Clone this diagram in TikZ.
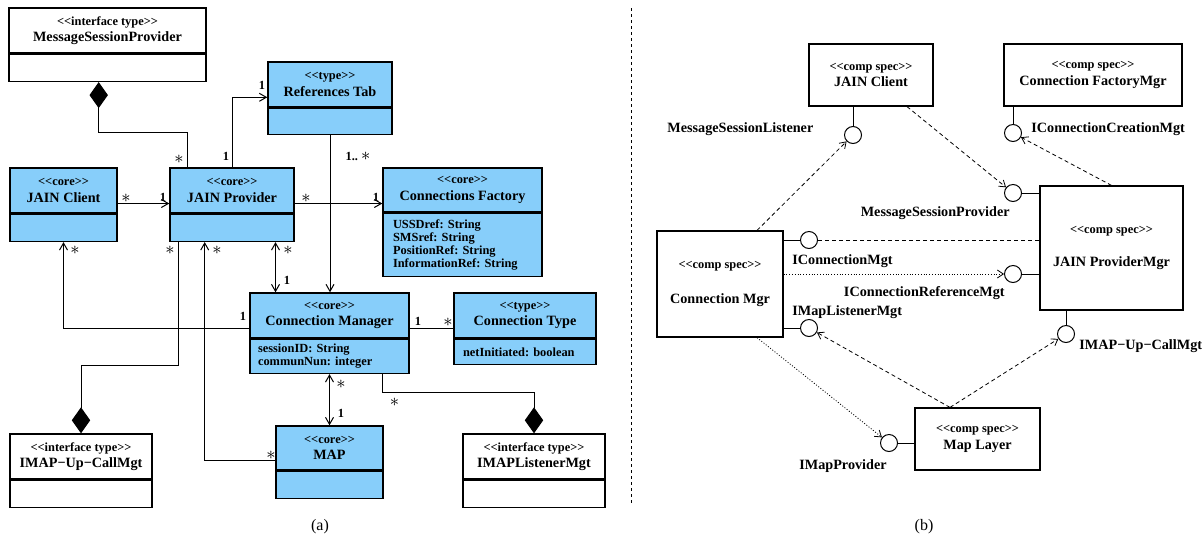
\documentclass[tikz,border=0pt]{standalone}
\usepackage{fontspec}
\setmainfont{Liberation Serif}
\usetikzlibrary{arrows.meta, positioning, calc}
\definecolor{coreblue}{RGB}{135,206,250}
\newcommand{\nmfont}{\bfseries\fontsize{7.1}{8.3}\selectfont}
\newcommand{\stfont}{\bfseries\fontsize{6.2}{8.3}\selectfont}
\newcommand{\atfont}{\bfseries\fontsize{6.2}{6.5}\selectfont}
\newcommand{\stereo}[1]{{\stfont<{}<#1>{}>}}
\newcommand{\mstar}{{\fontsize{9}{9}\selectfont$\ast$}}
\frenchspacing

\begin{document}
\begin{tikzpicture}[x=0.5pt, y=-0.5pt,
  hdr/.style={draw, line width=0.7pt, inner sep=0pt, align=center, font=\nmfont},
  core/.style={hdr, fill=coreblue},
  iface/.style={hdr, fill=white},
  body/.style={draw, line width=0.7pt, inner sep=0pt, align=left, font=\atfont},
  compbox/.style={hdr, line width=0.6pt, fill=white},
  port/.style={circle, draw, line width=0.5pt, fill=white, minimum size=8.5pt, inner sep=0pt},
  plabel/.style={font=\nmfont, inner sep=0pt},
  mult/.style={font=\stfont, inner sep=0pt},
  captxt/.style={font=\fontsize{8}{9}\selectfont, inner sep=0pt},
  assoc/.style={line width=0.5pt},
  nav/.style={assoc, -{Straight Barb[length=3.5pt,width=4pt]}},
  bothnav/.style={assoc, {Straight Barb[length=3.5pt,width=4pt]}-{Straight Barb[length=3.5pt,width=4pt]}},
  compo/.style={assoc, -{Diamond[length=13pt,width=9.2pt]}},
  dep/.style={line width=0.4pt, dash pattern=on 2pt off 1.5pt, -{Straight Barb[length=3pt,width=4pt]}},
  dotdep/.style={line width=0.4pt, dash pattern=on 0.5pt off 0.9pt, -{Straight Barb[length=3pt,width=4pt]}},
  sepline/.style={line width=0.45pt, dash pattern=on 1.5pt off 1.5pt}]
\useasboundingbox (0,0) rectangle (1203,541);

% (a) class diagram
\node[iface, minimum width=98.5pt, minimum height=22.5pt] (msp) at (107.5,30.5) {\stereo{interface type}\\MessageSessionProvider};
\node[body, fill=white, minimum width=98.5pt, minimum height=13.5pt, below=0pt of msp] (mspb) {};
\node[core, minimum width=62pt, minimum height=22.5pt] (rt) at (330,84.5) {\stereo{type}\\References Tab};
\node[body, fill=coreblue, minimum width=62pt, minimum height=13pt, below=0pt of rt] (rtb) {};
\node[core, minimum width=53.5pt, minimum height=22.5pt] (jc) at (63.5,190.5) {\stereo{core}\\JAIN Client};
\node[body, fill=coreblue, minimum width=53.5pt, minimum height=13.5pt, below=0pt of jc] (jcb) {};
\node[core, minimum width=62pt, minimum height=22.5pt] (jp) at (232,190.5) {\stereo{core}\\JAIN Provider};
\node[body, fill=coreblue, minimum width=62pt, minimum height=13.5pt, below=0pt of jp] (jpb) {};
\node[core, minimum width=79.5pt, minimum height=22pt] (cf) at (462.5,190) {\stereo{core}\\Connections Factory};
\node[body, fill=coreblue, text width=69.5pt, inner xsep=5pt, minimum height=31.5pt, below=0pt of cf] (cfb) {USSDref: String\\SMSref: String\\PositionRef: String\\InformationRef: String};
\node[core, minimum width=79.5pt, minimum height=22.5pt] (cm) at (329.5,315.5) {\stereo{core}\\Connection Manager};
\node[body, fill=coreblue, text width=71.5pt, inner xsep=4pt, minimum height=17pt, below=0pt of cm] (cmb) {sessionID: String\\communNun: integer};
\node[core, minimum width=71pt, minimum height=22.5pt] (ct) at (525,315.5) {\stereo{type}\\Connection Type};
\node[body, fill=coreblue, text width=62pt, inner xsep=4.5pt, minimum height=12.5pt, below=0pt of ct] (ctb) {netInitiated: boolean};
\node[iface, minimum width=71pt, minimum height=22.5pt] (iu) at (81,456.5) {\stereo{interface type}\\IMAP−Up−CallMgt};
\node[body, fill=white, minimum width=71pt, minimum height=13.5pt, below=0pt of iu] (iub) {};
\node[core, minimum width=53.5pt, minimum height=22pt] (map) at (329.5,448) {\stereo{core}\\MAP};
\node[body, fill=coreblue, minimum width=53.5pt, minimum height=13.5pt, below=0pt of map] (mapb) {};
\node[iface, minimum width=71pt, minimum height=22.5pt] (il) at (534,456.5) {\stereo{interface type}\\IMAPListenerMgt};
\node[body, fill=white, minimum width=71pt, minimum height=13.5pt, below=0pt of il] (ilb) {};

\draw[compo] ($(jp.north)+(-44.3,0)$) -- ++(0,-35.3) -| ($(mspb.south)+(-8.8,0)$);
\draw[nav] (jp.north) |- ($(rt.west)+(0,12.8)$);
\draw[nav] (rtb.south) -- (rtb.south |- cm.north);
\draw[nav] ($(jc.east)+(0,13)$) -- ($(jp.west)+(0,13)$);
\draw[nav] ($(jp.east)+(0,13)$) -- ($(cf.west)+(0,13.5)$);
\draw[bothnav] ($(jpb.south)+(43.5,0)$) -- ($(cm.north)+(-54,0)$);
\draw[nav] ($(cm.west)+(0,12.8)$) -| (jcb.south);
\draw[assoc] ($(cm.east)+(0,12.8)$) -- ($(ct.west)+(0,12.8)$);
\draw[compo] ($(jpb.south)+(-54,0)$) -- ++(0,123.3) -| (iu.north);
\draw[nav] ($(map.west)+(0,12.7)$) -| ($(jpb.south)+(-27.3,0)$);
\draw[bothnav] (cmb.south) -- (map.north);
\draw[compo] ($(cmb.south)+(53,0)$) -- ++(0,18.7) -| (il.north);

\node[mult] (m1) at (179,159) {\mstar};
\node[mult] (m2) at (226,156) {1};
\node[mult] (m3) at (262,85) {1};
\node[mult] (m4) at (358,156) {1.. \mstar};
\node[mult] (m5) at (126,198) {\mstar};
\node[mult] (m6) at (163,197) {1};
\node[mult] (m7) at (306,198) {\mstar};
\node[mult] (m8) at (376,197) {1};
\node[mult] (m9) at (170,250) {\mstar};
\node[mult] (m10) at (217,250) {\mstar};
\node[mult] (m11) at (288,250) {\mstar};
\node[mult] (m12) at (287,280) {1};
\node[mult] (m13) at (75,250) {\mstar};
\node[mult] (m14) at (243,316) {1};
\node[mult] (m15) at (418,321) {1};
\node[mult] (m16) at (448,322) {\mstar};
\node[mult] (m17) at (271,455) {\mstar};
\node[mult] (m18) at (341,384) {\mstar};
\node[mult] (m19) at (341,413) {1};
\node[mult] (m20) at (394.5,402) {\mstar};

% separator
\coordinate (septop) at (631,8);
\coordinate (sepbot) at (631,505);
\draw[sepline] (septop) -- (sepbot);

% (b) component diagram
\node[compbox, minimum width=62pt, minimum height=31pt] (cjc) at (871,75) {\stereo{comp spec}\\JAIN Client};
\node[compbox, minimum width=89pt, minimum height=31pt] (ccf) at (1093,75) {\stereo{comp spec}\\Connection FactoryMgr};
\node[compbox, minimum width=71.5pt, minimum height=62pt] (cjp) at (1111.5,248) {\stereo{comp spec}\\[8.2pt]JAIN ProviderMgr};
\node[compbox, minimum width=63pt, minimum height=53pt] (ccm) at (720,284) {\stereo{comp spec}\\[9.2pt]Connection Mgr};
\node[compbox, minimum width=62.5pt, minimum height=31pt] (cml) at (977.5,439) {\stereo{comp spec}\\Map Layer};

\node[port] (pmsl) at (853,135) {};
\node[port] (pccm) at (1013,133) {};
\node[port] (pmsp) at (1013,193) {};
\node[port] (pcm) at (809,240) {};
\node[port] (pcrm) at (1013,274) {};
\node[port] (piml) at (809,328) {};
\node[port] (pimu) at (1066,334) {};
\node[port] (pmp) at (889,443) {};

\draw[assoc] (cjc.south -| pmsl) -- (pmsl);
\draw[assoc] (ccf.south -| pccm) -- (pccm);
\draw[assoc] (pmsp) -- (pmsp -| cjp.west);
\draw[assoc] (pcm -| ccm.east) -- (pcm);
\draw[assoc] (pcrm) -- (pcrm -| cjp.west);
\draw[assoc] (piml -| ccm.east) -- (piml);
\draw[assoc] (pimu) -- (pimu |- cjp.south);
\draw[assoc] (pmp) -- (pmp -| cml.west);

\node[plabel, anchor=west] (lmsl) at (667,129) {MessageSessionListener};
\node[plabel, anchor=west] (lccm) at (1031,129) {IConnectionCreationMgt};
\node[plabel, anchor=east] (lmsp) at (1010,213) {MessageSessionProvider};
\node[plabel, anchor=west] (lcm) at (792,261) {IConnectionMgt};
\node[plabel, anchor=east] (lcrm) at (1005,293) {IConnectionReferenceMgt};
\node[plabel, anchor=west] (liml) at (792,312) {IMapListenerMgt};
\node[plabel, anchor=west] (limu) at (1079,346) {IMAP−Up−CallMgt};
\node[plabel] (lmp) at (843,466) {IMapProvider};

\draw[dep] ($(ccm.north)+(37,0)$) -- (pmsl);
\draw[dep] ($(cjc.south)+(36,0)$) -- (pmsp);
\draw[dep] (cjp.north) -- (pccm);
\draw[line width=0.4pt, dash pattern=on 2pt off 1.5pt] (pcm) -- (pcm -| cjp.west);
\draw[dotdep] (ccm.east |- pcrm) -- (pcrm);
\draw[dep] ($(cml.north)+(-27.5,0)$) -- (piml);
\draw[dep] ($(cml.north)+(-27.5,0)$) -- (pimu);
\draw[dotdep] ($(ccm.south)+(37,0)$) -- (pmp);

\node[captxt] (capa) at (320,527) {(a)};
\node[captxt] (capb) at (924,527) {(b)};
\end{tikzpicture}
\end{document}
